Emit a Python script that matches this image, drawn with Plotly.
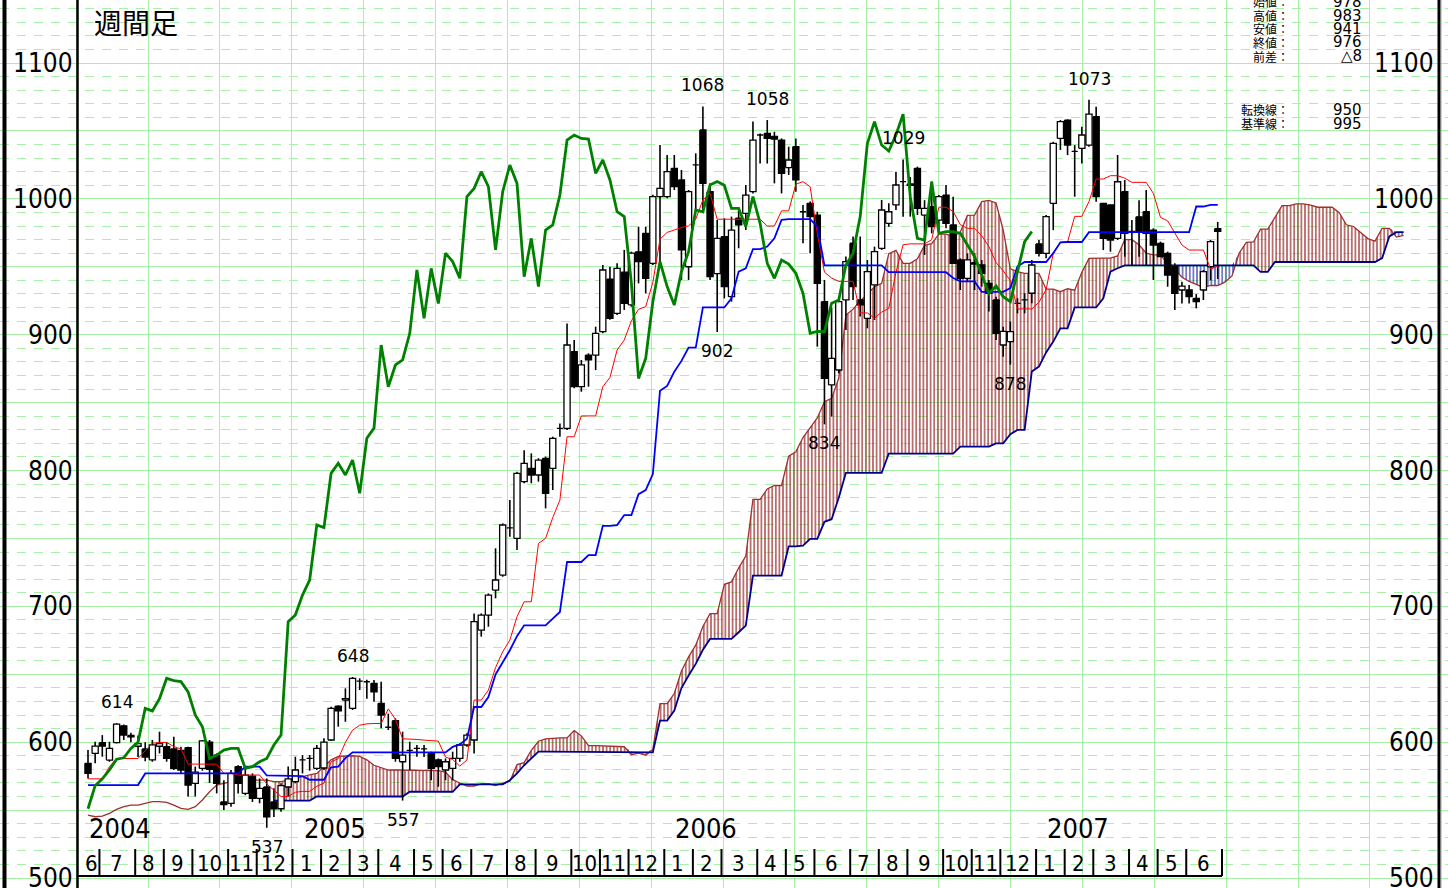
import numpy as np
import plotly.graph_objects as go

# ---------------- data (weekly candles, index 0 = week of 2004-06-18) ----------------
opens = [584.4, 591.7, 599.6, 586.8, 599.6, 612, 605, 597, 595, 587,
         597, 596.7, 595, 594, 596, 569.7, 580.7, 600, 590.5, 556,
         555, 582, 562.3, 575, 558.6, 567, 556, 551, 567, 571,
         587, 588, 580.7, 581, 601.6, 626.6, 631, 624.9, 645, 644.5,
         643.3, 628.6, 611, 615.8, 585.6, 594, 595.5, 595, 591.7, 587,
         579.5, 580.7, 588, 597.9, 601.6, 682.5, 693.6, 712, 723, 757.7,
         750, 791.8, 801.6, 796.7, 808.9, 801.6, 831, 831, 887.5, 861.7,
         885, 885, 902.2, 940.8, 915.7, 946, 921.9, 961, 974.6, 952.5,
         1001.6, 1001.6, 1022.5, 1013.9, 950, 1025, 1050.7, 1005.3, 945, 972.2,
         928, 985.7, 989.3, 1005.3, 1047, 1048.2, 1046, 1043.3, 1023, 1038.4,
         990.5, 996.7, 988, 924.3, 863, 874, 925.6, 967.3, 925.6, 912,
         936.6, 963.6, 982, 995.5, 1012.7, 1011, 1022.5, 988, 994.3, 984.4,
         1002.8, 980.8, 955, 941.5, 953, 951.3, 937.8, 925.6, 892.4, 894.9,
         923, 925.6, 930.5, 966.8, 959.9, 996.7, 1044.5, 1058, 1035, 1037.2,
         1039.6, 1060.5, 996.7, 995.5, 970.9, 1005.3, 976, 986.8, 990.5, 977,
         967.2, 959.9, 950, 932.9, 932.9, 926.8, 932.9, 950, 978]
highs = [594.2, 600.3, 605.2, 600.3, 614, 613, 607, 605, 600, 601.6,
         607.7, 600, 604, 596.7, 596.7, 582, 601.6, 601.6, 591.7, 572,
         579.5, 583, 582, 577, 573.3, 573.3, 566, 569.7, 582, 589.3,
         590.5, 590.5, 598, 602.8, 626, 627, 639.6, 648, 647, 646,
         645.7, 644.5, 621, 617.5, 607.7, 600.3, 597.9, 598, 593, 588,
         588, 593, 599, 606.5, 694.8, 694.8, 709.5, 742.7, 761.1, 778.3,
         799.1, 815, 812.6, 809, 810.2, 824.9, 834.7, 908.3, 896, 881.4,
         886.3, 905.9, 951.3, 950, 952.5, 962.4, 961.1, 979.5, 979.5, 1003,
         1039.6, 1032.3, 1032.3, 1021.2, 1006.5, 1033.5, 1068, 1011.4, 984.4, 985.7,
         986.9, 991.8, 1010.2, 1057, 1048.2, 1058, 1049.4, 1044.5, 1038.4, 1044.5,
         995.5, 998, 990.5, 940.3, 920, 928, 957.5, 972.2, 972.2, 955,
         964.8, 999.2, 996.7, 1020, 1029, 1016, 1023.7, 999, 1012.7, 1002.8,
         1010.2, 1001.6, 956.2, 959.9, 959.9, 955, 940.3, 928, 905.9, 909.6,
         926.8, 930.5, 955, 969.7, 988.1, 1042, 1058, 1058.5, 1039.6, 1053.1,
         1073, 1067.8, 996.7, 995.5, 1032.3, 1013.9, 984.4, 999, 1006.5, 978.3,
         968.5, 961.1, 952.5, 939, 936.6, 929.9, 947.6, 969.7, 983]
lows = [573.3, 584.4, 589.3, 585.6, 599.1, 601.6, 600, 589, 586, 585.6,
        591.7, 585.6, 579.5, 577, 560, 560, 579, 570, 562.3, 550,
        552.5, 562.3, 561, 556, 555, 537, 545, 548.8, 560, 569.7,
        577, 579, 579.5, 579.5, 601, 611.4, 615, 623.7, 638.4, 632,
        629.8, 610.2, 609, 585.6, 557, 579.5, 589.3, 589, 572, 567.2,
        572, 572, 585.6, 596.7, 591.7, 677.7, 685, 705.9, 721.8, 751.3,
        741.4, 790.6, 790.6, 791.8, 772.1, 785.6, 824.9, 829.8, 860.5, 858,
        861.7, 874, 901, 911, 914.5, 918.2, 920.6, 937.8, 930.4, 951.3,
        952.5, 1000.4, 1006.5, 940.3, 940.3, 991.8, 991.8, 940.3, 902, 926.7,
        924.3, 963.6, 977, 1004, 1026, 1026, 1011.4, 1004, 1017.6, 1005.3,
        967.3, 959.9, 891.2, 834, 839.7, 871.6, 903.5, 925.6, 913.3, 904.7,
        910.8, 962.4, 979.5, 991.8, 986.9, 986.9, 988.1, 958.7, 974.6, 974.6,
        978.3, 952.5, 932.9, 939, 932.9, 935.4, 917, 896, 883.8, 878,
        915.7, 915.7, 923.1, 957.5, 956.2, 977, 1036, 1032.2, 1001.6, 1026,
        1038.4, 997.9, 962.3, 961.1, 969.7, 957.4, 951.3, 957.4, 951.3, 940.3,
        957.4, 935.3, 918.1, 923, 923, 919.4, 925.5, 940, 941]
closes = [577, 597.1, 597.1, 595.4, 613.3, 605.2, 604, 599, 589, 598,
          599, 588, 580.7, 579.5, 568.4, 578, 601, 580, 569.7, 554,
          577, 569.7, 575.8, 558.6, 566, 545, 551, 568, 573, 579.5,
          587.5, 588.5, 595.4, 600, 624.9, 623, 632, 647, 645.3, 644.6,
          637, 620, 611.4, 588, 590.5, 594.2, 595.4, 595.4, 580.7, 582,
          585.6, 588, 597.9, 605.2, 688.7, 693.6, 708.3, 719.4, 759.9, 758,
          797.9, 805.3, 796.7, 807.7, 783.2, 823.7, 831.2, 892.4, 861.7, 877.7,
          881.4, 901, 947.6, 912, 948.8, 923, 960, 953.8, 941.5, 1001.6,
          1007.7, 1020, 1009, 962.4, 1005.3, 1024.9, 1011.4, 942.7, 970.9, 935.4,
          977, 980.8, 1002.8, 1043.3, 1047, 1044.5, 1044, 1018.8, 1028.6, 1013.9,
          990.5, 986.9, 937.8, 867.8, 882.6, 924.3, 953.8, 935.4, 921.9, 946.4,
          961.1, 991.8, 990.5, 1010.2, 1012.7, 1010, 993, 993, 979.5, 1001.6,
          982, 952.5, 941.5, 955, 952, 945.2, 930.5, 901, 902.4, 902.2,
          923.2, 925.6, 951.3, 959.9, 986.9, 1040.8, 1056.8, 1039.6, 1035.2, 1047,
          1062.4, 1001.6, 970.9, 969.7, 1012.6, 974.6, 975.8, 975.8, 974.6, 966,
          957.4, 943.9, 930.4, 935.8, 928, 924.3, 946.4, 968.5, 976]

tenkan_early = [573, 573, 573, 582, 588, 588, 588, 588]
kijun_early = [568.4, 568.4, 568.4, 568.4, 568.4, 568.4, 568.4, 568.4,
               577, 577, 577, 577, 577, 577, 577, 577, 577, 577, 577, 577, 577, 577,
               582, 582, 582]
span_a_early = [546.3, 545.1, 545.6, 547.6, 550.5, 552.5, 553.7, 553.7, 555, 556.2,
                556.2, 555.7, 553.7, 551.3, 550.5, 552.5, 557.4, 563.5, 568.4, 569.7,
                570.9, 571, 572, 572, 572, 572, 571, 571, 572, 573.5,
                574.5, 576, 577, 582, 587, 589.5, 590, 590, 589.5, 587,
                583, 581, 579.5, 579.5, 579.5, 579.5, 579.5, 579.5, 579.5, 579,
                578]
span_b_start = 26
span_b_early = [557, 557, 557, 557, 557, 557,
                560, 560, 560, 560, 560, 560, 560, 560, 560, 560, 560, 560, 560,
                563.5, 563.5, 563.5, 563.5, 563.5, 563.5, 563.5,
                569, 569, 569, 569, 569, 569, 569,
                572, 577, 583, 588,
                593, 593, 593, 593, 593, 593, 593, 593, 593, 593, 593, 593, 593, 593]

# month axis (first week index of each month; last entry = end of data)
month_first_week = [0, 2, 7, 11, 15, 20, 24,
                    29, 33, 37, 41, 46, 50, 54, 59, 63, 68, 72, 76,
                    81, 85, 89, 94, 98, 102, 107, 111, 115, 120, 124, 128,
                    133, 137, 141, 146, 150, 154, 159]
month_labels = ['6', '7', '8', '9', '10', '11', '12',
                '1', '2', '3', '4', '5', '6', '7', '8', '9', '10', '11', '12',
                '1', '2', '3', '4', '5', '6', '7', '8', '9', '10', '11', '12',
                '1', '2', '3', '4', '5', '6']
year_labels = ['2004', '2005', '2006', '2007']
year_label_pos = [4.5, 34.5, 86.5, 138.5]
price_ticks = [500, 600, 700, 800, 900, 1000, 1100]
peak_high_idx = [4, 37, 86, 95, 114, 140]
peak_low_idx = [25, 44, 88, 103, 129]
info_labels = ['始値：', '高値：', '安値：', '終値：', '前差：', '転換線：', '基準線：']
info_values = ['978', '983', '941', '976', '△8', '950', '995']
info_rows_px = [2, 15.5, 29, 42.5, 56, 110, 123.5]

# ---------------- derived indicators (Ichimoku) ----------------
O = np.array(opens); H = np.array(highs); L = np.array(lows); C = np.array(closes)
n = len(C)
SHIFT = 26


def midpoint(i, span):
    lo = i - span + 1
    return (H[lo:i + 1].max() + L[lo:i + 1].min()) / 2


tenkan = list(tenkan_early) + [midpoint(i, 9) for i in range(len(tenkan_early), n)]
kijun = list(kijun_early) + [midpoint(i, 26) for i in range(len(kijun_early), n)]
span_a = list(span_a_early) + [(tenkan[i - SHIFT] + kijun[i - SHIFT]) / 2
                               for i in range(len(span_a_early), n + SHIFT)]
span_b = list(span_b_early) + [midpoint(i - SHIFT, 52)
                               for i in range(span_b_start + len(span_b_early), n + SHIFT)]
xb = list(range(span_b_start, n + SHIFT))
a_on_b = np.array(span_a[span_b_start:])
b_arr = np.array(span_b)
top = np.maximum(a_on_b, b_arr)

# ---------------- geometry of the page ----------------
W, Hh = 1448, 888
PX_X0, PX_DX = 88.0, 7.15          # pixel of week 0, pixels per week
PX_Y500, PX_PER = 878.0, 1.3583    # pixel of price 500, pixels per yen
xr = [(0 - PX_X0) / PX_DX, (W - PX_X0) / PX_DX]
yr = [500 - (Hh - PX_Y500) / PX_PER, 500 + PX_Y500 / PX_PER]


def px2x(p):
    return (p - PX_X0) / PX_DX


def py2paper(p):
    return 1 - p / Hh


GRID = '#a8f0a8'
NARROW = 'Liberation Sans Narrow, Arial Narrow, DejaVu Sans Condensed, sans-serif'
JP = 'Noto Sans CJK JP, sans-serif'

fig = go.Figure()

# cloud hatching
fig.add_trace(go.Scatter(x=xb, y=b_arr, mode='lines', line=dict(width=0, color='rgba(0,0,0,0)'),
                         hoverinfo='skip', showlegend=False))
fig.add_trace(go.Scatter(x=xb, y=top, mode='lines', line=dict(width=0, color='rgba(0,0,0,0)'),
                         fill='tonexty', fillcolor='rgba(0,0,0,0)',
                         fillpattern=dict(shape='|', size=3.6, solidity=0.32, fgcolor='#921a1a',
                                          bgcolor='rgba(0,0,0,0)', fillmode='replace'),
                         hoverinfo='skip', showlegend=False))
fig.add_trace(go.Scatter(x=xb, y=a_on_b, mode='lines', line=dict(width=0, color='rgba(0,0,0,0)'),
                         hoverinfo='skip', showlegend=False))
fig.add_trace(go.Scatter(x=xb, y=top, mode='lines', line=dict(width=0, color='rgba(0,0,0,0)'),
                         fill='tonexty', fillcolor='rgba(0,0,0,0)',
                         fillpattern=dict(shape='|', size=3.6, solidity=0.32, fgcolor='#2a2aa8',
                                          bgcolor='rgba(0,0,0,0)', fillmode='replace'),
                         hoverinfo='skip', showlegend=False))

# leading spans
fig.add_trace(go.Scatter(x=list(range(len(span_a))), y=span_a, mode='lines',
                         line=dict(color='#a03030', width=1.3), hoverinfo='skip', showlegend=False))
fig.add_trace(go.Scatter(x=xb, y=span_b, mode='lines',
                         line=dict(color='#000090', width=1.8), hoverinfo='skip', showlegend=False))

# candles: wicks then bodies
wx, wy = [], []
for i in range(n):
    wx += [i, i, None]
    wy += [L[i], H[i], None]
fig.add_trace(go.Scatter(x=wx, y=wy, mode='lines', line=dict(color='black', width=1.6),
                         hoverinfo='skip', showlegend=False))

HW = 0.43


def bodies(idx):
    xs, ys = [], []
    for i in idx:
        o, c = O[i], C[i]
        xs += [i - HW, i + HW, i + HW, i - HW, i - HW, None]
        ys += [o, o, c, c, o, None]
    return xs, ys


up_idx = [i for i in range(n) if C[i] >= O[i]]
dn_idx = [i for i in range(n) if C[i] < O[i]]
ux, uy = bodies(up_idx)
dx_, dy_ = bodies(dn_idx)
fig.add_trace(go.Scatter(x=ux, y=uy, mode='lines', fill='toself', fillcolor='white',
                         line=dict(color='black', width=1.3), hoverinfo='skip', showlegend=False))
fig.add_trace(go.Scatter(x=dx_, y=dy_, mode='lines', fill='toself', fillcolor='black',
                         line=dict(color='black', width=1.3), hoverinfo='skip', showlegend=False))

# conversion / base / lagging lines
fig.add_trace(go.Scatter(x=list(range(n)), y=tenkan, mode='lines',
                         line=dict(color='#ff0000', width=1), hoverinfo='skip', showlegend=False))
fig.add_trace(go.Scatter(x=list(range(n)), y=kijun, mode='lines',
                         line=dict(color='#0000ff', width=1.8), hoverinfo='skip', showlegend=False))
fig.add_trace(go.Scatter(x=list(range(n - SHIFT)), y=C[SHIFT:], mode='lines',
                         line=dict(color='#008000', width=2.8), hoverinfo='skip', showlegend=False))

# ---------------- frame, axis decorations ----------------
shapes = []
for px, wdt in [(4.5, 4), (77.5, 2.5), (1439, 3)]:
    shapes.append(dict(type='line', xref='paper', yref='paper', x0=px / W, x1=px / W, y0=0, y1=1,
                       line=dict(color='black', width=wdt)))
end_sep = month_first_week[-1] - 0.4
shapes.append(dict(type='line', xref='x', yref='paper', x0=px2x(77), x1=end_sep,
                   y0=py2paper(876), y1=py2paper(876), line=dict(color='black', width=2)))
for b in month_first_week[1:]:
    shapes.append(dict(type='line', xref='x', yref='paper', x0=b - 0.4, x1=b - 0.4,
                       y0=py2paper(849), y1=py2paper(876), line=dict(color='black', width=2)))

ann = []
for k, lab in enumerate(month_labels):
    cx = (month_first_week[k] + month_first_week[k + 1]) / 2 - 0.5
    ann.append(dict(x=cx, y=py2paper(863), xref='x', yref='paper', text=lab, showarrow=False,
                    xanchor='center', yanchor='middle', font=dict(family=NARROW, size=22, color='black')))
for lab, pos in zip(year_labels, year_label_pos):
    ann.append(dict(x=pos, y=py2paper(828), xref='x', yref='paper', text=lab, showarrow=False,
                    xanchor='center', yanchor='middle', font=dict(family=NARROW, size=27, color='black')))
for v in price_ticks:
    for xp in (75 / W, 1436 / W):
        ann.append(dict(x=xp, y=v, xref='paper', yref='y', text=str(v), showarrow=False,
                        xanchor='right', yanchor='middle', font=dict(family=NARROW, size=26, color='black')))
for i in peak_high_idx:
    ann.append(dict(x=i, y=H[i], xref='x', yref='y', text=f'{H[i]:.0f}', showarrow=False,
                    yshift=21, xanchor='center', yanchor='middle',
                    font=dict(family='DejaVu Sans', size=17, color='black')))
for i in peak_low_idx:
    ann.append(dict(x=i, y=L[i], xref='x', yref='y', text=f'{L[i]:.0f}', showarrow=False,
                    yshift=-19, xanchor='center', yanchor='middle',
                    font=dict(family='DejaVu Sans', size=17, color='black')))
ann.append(dict(x=92 / W, y=py2paper(22), xref='paper', yref='paper', text='週間足', showarrow=False,
                xanchor='left', yanchor='middle', font=dict(family=JP, size=28, color='black')))
for lab, val, py in zip(info_labels, info_values, info_rows_px):
    ann.append(dict(x=1291 / W, y=py2paper(py), xref='paper', yref='paper', text=lab, showarrow=False,
                    xanchor='right', yanchor='middle', font=dict(family=JP, size=12, color='black')))
    ann.append(dict(x=1364 / W, y=py2paper(py), xref='paper', yref='paper', text=val, showarrow=False,
                    xanchor='right', yanchor='middle', font=dict(family='DejaVu Sans', size=15, color='black')))

fig.update_layout(
    width=W, height=Hh, autosize=False,
    margin=dict(l=0, r=0, t=0, b=0, pad=0),
    paper_bgcolor='white', plot_bgcolor='white',
    showlegend=False, hovermode=False,
    shapes=shapes, annotations=ann,
    xaxis=dict(range=xr, showgrid=True, gridcolor=GRID, gridwidth=1,
               tick0=px2x(148), dtick=71.88 / PX_DX, showticklabels=False, ticks='',
               zeroline=False, showline=False, fixedrange=True),
    yaxis=dict(range=yr, showgrid=True, gridcolor=GRID, gridwidth=1, tick0=500, dtick=50,
               showticklabels=False, ticks='', zeroline=False, showline=False, fixedrange=True,
               minor=dict(tick0=500, dtick=10, showgrid=True, gridcolor=GRID, griddash='9px,8px',
                          gridwidth=1, ticks='')),
)

fig.write_html('out.html', config={'displayModeBar': False},
               post_script="document.body.style.margin='0px';document.body.style.overflow='hidden';")
